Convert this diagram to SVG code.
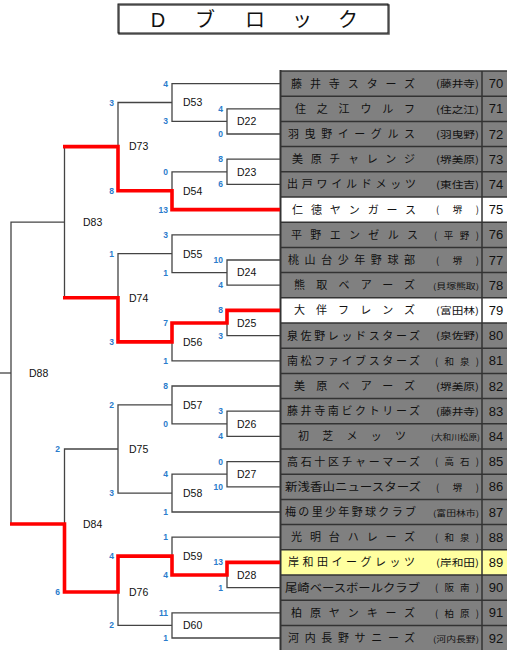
<svg xmlns="http://www.w3.org/2000/svg" width="507" height="650" viewBox="0 0 507 650">
<style>
.ln{fill:none;stroke:#444;stroke-width:1.3}
.rd{fill:none;stroke:#ff0000;stroke-width:3.6;stroke-linejoin:miter}
.sc{font-family:"Liberation Sans",Arial,sans-serif;font-size:8.5px;font-weight:bold;fill:#2a7ccc;text-anchor:end}
.lb{font-family:"Liberation Sans",Arial,sans-serif;font-size:10.5px;fill:#111}
.nm{font-family:"Noto Sans CJK JP",sans-serif;font-size:11px;fill:#111}
.lc{font-family:"Noto Sans CJK JP",sans-serif;font-size:9.5px;fill:#111}
.lc2{font-family:"Noto Sans CJK JP",sans-serif;font-size:8px;fill:#111}
.no{font-family:"Liberation Sans",Arial,sans-serif;font-size:13px;fill:#111;text-anchor:middle}
.g{fill:#808080}
.w{fill:#ffffff}
.y{fill:#ffffa0}
.rl{stroke:#333;stroke-width:1.5}
</style>
<rect width="507" height="650" fill="#ffffff"/>
<g id="title">
<rect x="119" y="5" width="270" height="29" fill="#ffffff" stroke="#555" stroke-width="1.5"/>
<rect x="118" y="4" width="270" height="29" fill="none" stroke="#111" stroke-width="1"/>
<text y="27" font-family="'Liberation Sans','Noto Sans CJK JP',sans-serif" font-size="20" fill="#111" text-anchor="middle"><tspan x="158">D</tspan><tspan x="205">ブ</tspan><tspan x="255">ロ</tspan><tspan x="302">ッ</tspan><tspan x="348">ク</tspan></text>
</g>
<g id="table">
<rect class="g" x="280" y="71" width="227" height="580"/>
<rect class="w" x="280" y="197" width="227" height="25.2"/>
<rect class="w" x="280" y="297.8" width="227" height="25.2"/>
<rect class="y" x="280" y="549.8" width="227" height="25.2"/>
<g class="rl">
<line x1="280" y1="71" x2="507" y2="71"/><line x1="280" y1="96.2" x2="507" y2="96.2"/><line x1="280" y1="121.4" x2="507" y2="121.4"/><line x1="280" y1="146.6" x2="507" y2="146.6"/><line x1="280" y1="171.8" x2="507" y2="171.8"/><line x1="280" y1="197" x2="507" y2="197"/><line x1="280" y1="222.2" x2="507" y2="222.2"/><line x1="280" y1="247.4" x2="507" y2="247.4"/><line x1="280" y1="272.6" x2="507" y2="272.6"/><line x1="280" y1="297.8" x2="507" y2="297.8"/><line x1="280" y1="323" x2="507" y2="323"/><line x1="280" y1="348.2" x2="507" y2="348.2"/><line x1="280" y1="373.4" x2="507" y2="373.4"/><line x1="280" y1="398.6" x2="507" y2="398.6"/><line x1="280" y1="423.8" x2="507" y2="423.8"/><line x1="280" y1="449" x2="507" y2="449"/><line x1="280" y1="474.2" x2="507" y2="474.2"/><line x1="280" y1="499.4" x2="507" y2="499.4"/><line x1="280" y1="524.6" x2="507" y2="524.6"/><line x1="280" y1="549.8" x2="507" y2="549.8"/><line x1="280" y1="575" x2="507" y2="575"/><line x1="280" y1="600.2" x2="507" y2="600.2"/><line x1="280" y1="625.4" x2="507" y2="625.4"/>
<line x1="280.5" y1="70" x2="280.5" y2="650" stroke-width="2"/>
<line x1="482" y1="71" x2="482" y2="650"/>
</g>
</g>
<g id="teams">
<g id="t70"><text class="nm" x="291" y="87.6" textLength="124" lengthAdjust="spacing">藤井寺スターズ</text><text class="lc" x="436" y="87.3" textLength="43" lengthAdjust="spacingAndGlyphs">(藤井寺)</text><text class="no" x="496" y="88.2">70</text></g>
<g id="t71"><text class="nm" x="295" y="112.8" textLength="120" lengthAdjust="spacing">住之江ウルフ</text><text class="lc" x="436" y="112.5" textLength="43" lengthAdjust="spacingAndGlyphs">(住之江)</text><text class="no" x="496" y="113.4">71</text></g>
<g id="t72"><text class="nm" x="288" y="138" textLength="127" lengthAdjust="spacing">羽曳野イーグルス</text><text class="lc" x="436" y="137.7" textLength="43" lengthAdjust="spacingAndGlyphs">(羽曳野)</text><text class="no" x="496" y="138.6">72</text></g>
<g id="t73"><text class="nm" x="292" y="163.2" textLength="123" lengthAdjust="spacing">美原チャレンジ</text><text class="lc" x="436" y="162.9" textLength="43" lengthAdjust="spacingAndGlyphs">(堺美原)</text><text class="no" x="496" y="163.8">73</text></g>
<g id="t74"><text class="nm" x="287" y="188.4" textLength="129" lengthAdjust="spacing">出戸ワイルドメッツ</text><text class="lc" x="436" y="188.1" textLength="43" lengthAdjust="spacingAndGlyphs">(東住吉)</text><text class="no" x="496" y="189">74</text></g>
<g id="t75"><text class="nm" x="292" y="213.6" textLength="124" lengthAdjust="spacing">仁徳ヤンガース</text><text class="lc" x="436" y="213.3" textLength="43" lengthAdjust="spacing">( 堺 )</text><text class="no" x="496" y="214.2">75</text></g>
<g id="t76"><text class="nm" x="291" y="238.8" textLength="127" lengthAdjust="spacing">平野エンゼルス</text><text class="lc" x="434" y="238.5" textLength="45" lengthAdjust="spacing">( 平 野 )</text><text class="no" x="496" y="239.4">76</text></g>
<g id="t77"><text class="nm" x="288" y="264" textLength="127" lengthAdjust="spacing">桃山台少年野球部</text><text class="lc" x="436" y="263.7" textLength="43" lengthAdjust="spacing">( 堺 )</text><text class="no" x="496" y="264.6">77</text></g>
<g id="t78"><text class="nm" x="294" y="289.2" textLength="121" lengthAdjust="spacing">熊取ベアーズ</text><text class="lc2" x="433" y="288.8" textLength="46" lengthAdjust="spacingAndGlyphs">(貝塚熊取)</text><text class="no" x="496" y="289.8">78</text></g>
<g id="t79"><text class="nm" x="294" y="314.4" textLength="121" lengthAdjust="spacing">大伴フレンズ</text><text class="lc" x="436" y="314.1" textLength="43" lengthAdjust="spacingAndGlyphs">(富田林)</text><text class="no" x="496" y="315">79</text></g>
<g id="t80"><text class="nm" x="287" y="339.6" textLength="133" lengthAdjust="spacing">泉佐野レッドスターズ</text><text class="lc" x="436" y="339.3" textLength="43" lengthAdjust="spacingAndGlyphs">(泉佐野)</text><text class="no" x="496" y="340.2">80</text></g>
<g id="t81"><text class="nm" x="287" y="364.8" textLength="133" lengthAdjust="spacing">南松ファイブスターズ</text><text class="lc" x="435" y="364.5" textLength="44" lengthAdjust="spacing">( 和 泉 )</text><text class="no" x="496" y="365.4">81</text></g>
<g id="t82"><text class="nm" x="294" y="390" textLength="121" lengthAdjust="spacing">美原ベアーズ</text><text class="lc" x="436" y="389.7" textLength="43" lengthAdjust="spacingAndGlyphs">(堺美原)</text><text class="no" x="496" y="390.6">82</text></g>
<g id="t83"><text class="nm" x="287" y="415.2" textLength="133" lengthAdjust="spacing">藤井寺南ビクトリーズ</text><text class="lc" x="436" y="414.9" textLength="43" lengthAdjust="spacingAndGlyphs">(藤井寺)</text><text class="no" x="496" y="415.8">83</text></g>
<g id="t84"><text class="nm" x="298" y="440.4" textLength="108" lengthAdjust="spacing">初芝メッツ</text><text class="lc2" x="431" y="440" textLength="49" lengthAdjust="spacingAndGlyphs">(大和川松原)</text><text class="no" x="496" y="441">84</text></g>
<g id="t85"><text class="nm" x="287" y="465.6" textLength="133" lengthAdjust="spacing">高石十区チャーマーズ</text><text class="lc" x="435" y="465.3" textLength="44" lengthAdjust="spacing">( 高 石 )</text><text class="no" x="496" y="466.2">85</text></g>
<g id="t86"><text class="nm" x="285" y="490.8" textLength="136" lengthAdjust="spacingAndGlyphs">新浅香山ニュースターズ</text><text class="lc" x="436" y="490.5" textLength="43" lengthAdjust="spacing">( 堺 )</text><text class="no" x="496" y="491.4">86</text></g>
<g id="t87"><text class="nm" x="285" y="516" textLength="131" lengthAdjust="spacing">梅の里少年野球クラブ</text><text class="lc2" x="433" y="515.6" textLength="46" lengthAdjust="spacingAndGlyphs">(富田林市)</text><text class="no" x="496" y="516.6">87</text></g>
<g id="t88"><text class="nm" x="291" y="541.2" textLength="124" lengthAdjust="spacing">光明台ハレーズ</text><text class="lc" x="435" y="540.9" textLength="44" lengthAdjust="spacing">( 和 泉 )</text><text class="no" x="496" y="541.8">88</text></g>
<g id="t89"><text class="nm" x="288" y="566.4" textLength="127" lengthAdjust="spacing">岸和田イーグレッツ</text><text class="lc" x="436" y="566.1" textLength="43" lengthAdjust="spacingAndGlyphs">(岸和田)</text><text class="no" x="496" y="567">89</text></g>
<g id="t90"><text class="nm" x="285" y="591.6" textLength="135" lengthAdjust="spacingAndGlyphs">尾崎ベースボールクラブ</text><text class="lc" x="435" y="591.3" textLength="44" lengthAdjust="spacing">( 阪 南 )</text><text class="no" x="496" y="592.2">90</text></g>
<g id="t91"><text class="nm" x="291" y="616.8" textLength="124" lengthAdjust="spacing">柏原ヤンキーズ</text><text class="lc" x="435" y="616.5" textLength="44" lengthAdjust="spacing">( 柏 原 )</text><text class="no" x="496" y="617.4">91</text></g>
<g id="t92"><text class="nm" x="288" y="642" textLength="127" lengthAdjust="spacing">河内長野サニーズ</text><text class="lc2" x="433" y="641.6" textLength="46" lengthAdjust="spacingAndGlyphs">(河内長野)</text><text class="no" x="496" y="642.6">92</text></g>
</g>
<g id="connectors">
<path class="ln" d="M280 108.8H227V134H280"/>
<path class="ln" d="M280 159.2H227V184.4H280"/>
<path class="ln" d="M280 260H227V285.2H280"/>
<path class="ln" d="M280 310.4H227V335.6H280"/>
<path class="ln" d="M280 411.2H227V436.4H280"/>
<path class="ln" d="M280 461.6H227V486.8H280"/>
<path class="ln" d="M280 562.4H227V587.6H280"/>
<path class="ln" d="M280 83.6H172V121.4H227"/>
<path class="ln" d="M227 171.8H172V209.6H280"/>
<path class="ln" d="M280 234.8H172V272.6H227"/>
<path class="ln" d="M227 323H172V360.8H280"/>
<path class="ln" d="M280 386H172V423.8H227"/>
<path class="ln" d="M227 474.2H172V512H280"/>
<path class="ln" d="M280 537.2H172V575H227"/>
<path class="ln" d="M280 612.8H172V638H280"/>
<path class="ln" d="M172 102.5H118V190.7H172"/>
<path class="ln" d="M172 253.7H118V341.9H172"/>
<path class="ln" d="M172 404.9H118V493.1H172"/>
<path class="ln" d="M172 556.1H118V625.4H172"/>
<path class="ln" d="M118 146.6H64.5V297.8H118"/>
<path class="ln" d="M118 449H64.5V592H118"/>
<path class="ln" d="M64.5 222.2H11V524H64.5"/>
<path class="ln" d="M11 373H0"/>
<path class="rd" d="M280 209.6H172V190.7H118V146.6H63"/>
<path class="rd" d="M280 310.4H227V323H172V341.9H118V297.8H63"/>
<path class="rd" d="M280 562.4H227V575H172V556.1H118V592H64.5V524H10"/>
</g>
<g id="scores">
<text class="sc" x="223" y="111.8">4</text><text class="sc" x="223" y="137">0</text>
<text class="sc" x="223" y="162.2">8</text><text class="sc" x="223" y="187.4">6</text>
<text class="sc" x="223" y="263">10</text><text class="sc" x="223" y="288.2">4</text>
<text class="sc" x="223" y="313.4">8</text><text class="sc" x="223" y="338.6">3</text>
<text class="sc" x="223" y="414.2">3</text><text class="sc" x="223" y="439.4">4</text>
<text class="sc" x="223" y="464.6">0</text><text class="sc" x="223" y="489.8">10</text>
<text class="sc" x="223" y="565.4">13</text><text class="sc" x="223" y="590.6">1</text>
<text class="sc" x="168" y="86.6">4</text><text class="sc" x="168" y="124.4">3</text>
<text class="sc" x="168" y="174.8">0</text><text class="sc" x="168" y="212.6">13</text>
<text class="sc" x="168" y="237.8">3</text><text class="sc" x="168" y="275.6">1</text>
<text class="sc" x="168" y="326">7</text><text class="sc" x="168" y="363.8">1</text>
<text class="sc" x="168" y="389">8</text><text class="sc" x="168" y="426.8">0</text>
<text class="sc" x="168" y="477.2">4</text><text class="sc" x="168" y="515">1</text>
<text class="sc" x="168" y="540.2">1</text><text class="sc" x="168" y="578">4</text>
<text class="sc" x="168" y="615.8">11</text><text class="sc" x="168" y="641">1</text>
<text class="sc" x="114" y="105.5">3</text><text class="sc" x="114" y="193.7">8</text>
<text class="sc" x="114" y="256.7">1</text><text class="sc" x="114" y="344.9">3</text>
<text class="sc" x="114" y="407.9">2</text><text class="sc" x="114" y="496.1">3</text>
<text class="sc" x="114" y="559.1">4</text><text class="sc" x="114" y="628.4">2</text>
<text class="sc" x="60" y="452">2</text><text class="sc" x="60" y="595">6</text>
</g>
<g id="labels">
<g id="D22"><text class="lb" x="237" y="125.2">D22</text></g>
<g id="D23"><text class="lb" x="237" y="175.6">D23</text></g>
<g id="D24"><text class="lb" x="237" y="276.4">D24</text></g>
<g id="D25"><text class="lb" x="237" y="326.8">D25</text></g>
<g id="D26"><text class="lb" x="237" y="427.6">D26</text></g>
<g id="D27"><text class="lb" x="237" y="478">D27</text></g>
<g id="D28"><text class="lb" x="237" y="578.8">D28</text></g>
<g id="D53"><text class="lb" x="183" y="106.3">D53</text></g>
<g id="D54"><text class="lb" x="183" y="194.5">D54</text></g>
<g id="D55"><text class="lb" x="183" y="257.5">D55</text></g>
<g id="D56"><text class="lb" x="183" y="345.7">D56</text></g>
<g id="D57"><text class="lb" x="183" y="408.7">D57</text></g>
<g id="D58"><text class="lb" x="183" y="496.9">D58</text></g>
<g id="D59"><text class="lb" x="183" y="559.9">D59</text></g>
<g id="D60"><text class="lb" x="183" y="629.2">D60</text></g>
<g id="D73"><text class="lb" x="129" y="150.4">D73</text></g>
<g id="D74"><text class="lb" x="129" y="301.6">D74</text></g>
<g id="D75"><text class="lb" x="129" y="452.8">D75</text></g>
<g id="D76"><text class="lb" x="129" y="595.8">D76</text></g>
<g id="D83"><text class="lb" x="83" y="226">D83</text></g>
<g id="D84"><text class="lb" x="83" y="528">D84</text></g>
<g id="D88"><text class="lb" x="29" y="376.8">D88</text></g>
</g>
</svg>
